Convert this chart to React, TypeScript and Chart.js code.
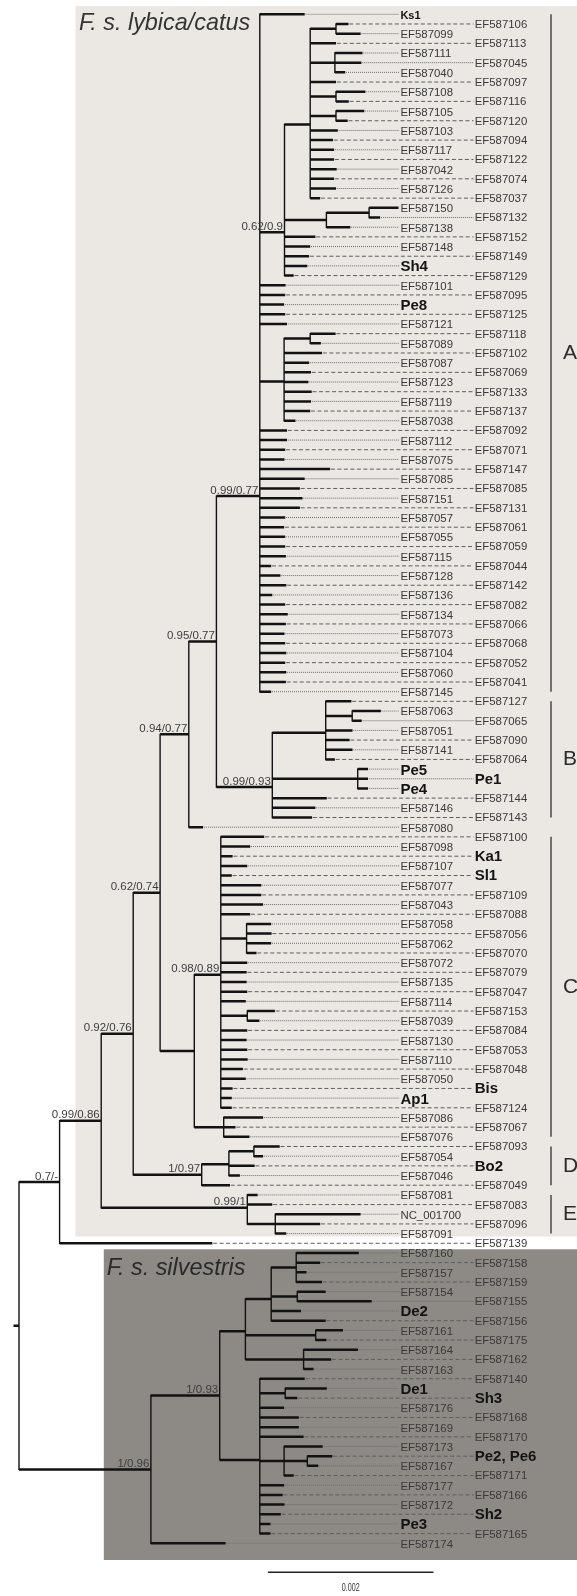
import React, { useEffect, useRef } from 'react';
import { Chart, registerables } from 'chart.js';

Chart.register(...registerables);

// ---------------- DATA ----------------
// Tree topology (Newick). Numbers after ":" are node depths from the root, in tree units
// (165.6 tree units = 0.002 substitutions/site, the scale bar). Internal labels = support values.
const treeNewick = `
(
 (
  (
   (
    (
     (
      (
       (
        Ks1:285.7,
        (
         (
          (EF587106:329.5,EF587099:341.6):317,
          EF587113:317,
          (EF587111:343.5,EF587045:342.4,EF587040:326.2):315.9,
          EF587097:317,
          (EF587108:346.4,EF587116:329.8):317,
          (EF587105:345.3,EF587120:328.7):317,
          EF587103:318.8,EF587094:314,EF587117:315.1,EF587122:315.1,
          EF587042:317.7,EF587074:315.1,EF587126:317,EF587037:301.2
         ):291.2,
         ((EF587150:379.5,EF587132:361.1):350.1,EF587138:331.3):307.4,
         EF587152:296.4,EF587148:291.2,EF587149:290.1,Sh4:288.3,EF587129:274.7
        )0.62/0.9:265.5,
        EF587101:266.6,EF587095:266.2,Pe8:265.1,EF587125:266.2,EF587121:268,
        (
         (EF587118:316.6,EF587089:301.9):291.2,
         EF587102:303,EF587087:290.1,EF587069:292,EF587123:289.4,
         EF587133:292.7,EF587119:292,EF587137:291.2,EF587038:276.5
        ):265.1,
        EF587092:268,EF587112:268,EF587071:266.2,EF587075:265.5,EF587147:311.1,
        EF587085:285.7,EF587085:280.9,EF587151:283.5,EF587131:280.9,EF587057:266.2,
        EF587061:265.1,EF587055:266.2,EF587059:266.2,EF587115:266.9,EF587044:252.2,
        EF587128:261.4,EF587142:267.3,EF587136:253.3,EF587082:266.2,EF587134:268.8,
        EF587066:266.9,EF587073:265.5,EF587068:266.2,EF587104:267.3,EF587052:266.2,
        EF587060:267.3,EF587041:266.9,EF587145:252.2
       )0.99/0.77:240.8,
       (
        (EF587127:332.4,(EF587063:361.9,EF587065:342.7):333.2,EF587051:333.5,
         EF587090:330.6,EF587141:333.5,EF587064:315.9):306.7,
        (Pe5:349,Pe1:349,Pe4:349):338.7,
        EF587144:307.8,EF587146:296.4,EF587143:293.1
       )0.99/0.93:253.3
      )0.95/0.77:197.4,
      EF587080:184.1
     )0.94/0.77:169.8,
     (
      (EF587100:245.2,EF587098:231.2,Ka1:213.6,EF587107:228.3,Sl1:212.8,
       EF587077:242.3,EF587109:242.3,EF587043:244.1,EF587088:231.2,
       (EF587058:252.2,EF587056:252.6,EF587062:252.2,EF587070:237.5):227.6,
       EF587072:228.3,EF587079:227.6,EF587135:227.6,EF587047:228.3,EF587114:226.8,
       (EF587153:255.9,EF587039:240.4):228.3,
       EF587084:228.3,EF587130:227.6,EF587053:228.3,EF587110:228.7,EF587048:223.9,
       EF587050:226.8,Bis:213.6,Ap1:212.8,EF587124:212.8
      )0.98/0.89:201.8,
      (EF587086:244.1,EF587067:216.5,EF587076:230.5):204.7
     ):175.3
    )0.62/0.74:141.1,
    (
     ((EF587093:260.7,EF587054:244.1):234.9,Bo2:235.6,EF587046:220.9):209.9,
     EF587049:211
    )1/0.97:182.7
   )0.92/0.76:114.2,
   (EF587081:238.6,EF587083:253.3,(NC_001700:341.6,EF587096:301.2,EF587091:267.3):256.3)0.99/1:228.3
  )0.99/0.86:82.2,
  EF587139:193.3
 )0.7/-:40.6,
 (
  (
   (
    ((EF587160:339.8,EF587158:301.2,EF587157:287.5,EF587159:303):277.2,
     (EF587154:306.7,EF587155:352.7):278.3,De2:282,EF587156:306.7):252.2,
    (EF587161:324,EF587175:307.4):296.7,
    (EF587164:339,EF587162:312.2,EF587163:294.5):284.6
   ):226.4,
   (
    EF587140:285.7,(De1:307.8,Sh3:278.3):266.2,EF587176:265.1,EF587168:279.8,
    EF587169:279.8,EF587170:284.6,
    (EF587173:303.7,('Pe2, Pe6':313.3,EF587167:299.3):288.3,EF587171:274.7):265.1,
    EF587177:265.1,EF587166:263.6,EF587172:265.5,Sh2:261.8,Pe3:251.5,EF587165:251.5
   ):240.8
  )1/0.93:200.7,
  EF587174:206.6
 )1/0.96:131.9
):0;
`;

const boldLeaves = ['Ks1', 'Sh4', 'Pe8', 'Pe5', 'Pe1', 'Pe4', 'Ka1', 'Sl1', 'Bis', 'Ap1', 'Bo2',
  'De2', 'De1', 'Sh3', 'Pe2, Pe6', 'Sh2', 'Pe3'];
// right-column leaves whose guide is dotted instead of dashed
const dottedRightLeaves = ['EF587045', 'EF587132', 'EF587065', 'Pe1', 'EF587155'];

const cladeLetters = ['A', 'B', 'C', 'D', 'E'];
const cladeFirstLeaf = [0, 71, 85, 117, 122];
const cladeLastLeaf = [70, 83, 116, 121, 126];

const groupTitles = ['F. s. lybica/catus', 'F. s. silvestris'];
const scaleBarValue = 0.002;
const scaleBarLabel = '0.002';

// ---------------- LAYOUT CONSTANTS ----------------
const W = 577;
const H = 1596;
const TREE_UNIT = 0.002 / 165.6;
const ROOT_STUB = 5.5;
const X_MIN = -19;
const X_MAX = 558;
const FIRST_ROW = 14.3;
const ROW = 9.677;
const LEFT_COLUMN = 381.4;
const RIGHT_COLUMN = 455.7;
const CLADE_BAR_X = 532;
const CLADE_LETTER_X = 544;
const SCALE_BAR_X = 248.9;
const SCALE_BAR_ROW = 161.0;
const SCALE_LABEL_ROW = 162.65;
const FONT = '"Liberation Sans", Arial, Helvetica, sans-serif';

type TNode = { name: string; depth: number; children: TNode[]; y: number; leafIndex: number };

function parseNewick(s: string): TNode {
  let i = 0;
  const ws = () => { while (i < s.length && /\s/.test(s[i])) i++; };
  const parseNode = (): TNode => {
    ws();
    const node: TNode = { name: '', depth: 0, children: [], y: 0, leafIndex: -1 };
    if (s[i] === '(') {
      i++;
      node.children.push(parseNode());
      ws();
      while (s[i] === ',') { i++; node.children.push(parseNode()); ws(); }
      i++; // ')'
    }
    ws();
    if (s[i] === "'") {
      i++;
      const st = i;
      while (s[i] !== "'") i++;
      node.name = s.slice(st, i);
      i++;
    } else {
      const st = i;
      while (i < s.length && !',():;'.includes(s[i])) i++;
      node.name = s.slice(st, i).trim();
    }
    ws();
    if (s[i] === ':') {
      i++;
      const st = i;
      while (i < s.length && !',();'.includes(s[i])) i++;
      node.depth = parseFloat(s.slice(st, i));
    }
    return node;
  };
  return parseNode();
}

function buildTree() {
  const root = parseNewick(treeNewick);
  const leaves: TNode[] = [];
  const internals: TNode[] = [];
  const layout = (n: TNode) => {
    if (n.children.length === 0) {
      n.leafIndex = leaves.length;
      n.y = leaves.length;
      leaves.push(n);
      return;
    }
    n.children.forEach(layout);
    n.y = n.children.reduce((a, c) => a + c.y, 0) / n.children.length;
    internals.push(n);
  };
  layout(root);
  return { root, leaves, internals };
}

const GAP = { x: NaN, y: NaN };

export default function App() {
  const ref = useRef<HTMLCanvasElement | null>(null);

  useEffect(() => {
    if (!ref.current) return;
    const { root, leaves, internals } = buildTree();

    const hor: any[] = [];
    const ver: any[] = [];
    const dotted: any[] = [];
    const dashed: any[] = [];
    const bars: any[] = [];
    const scaleBar: any[] = [];

    // root stub
    hor.push({ x: -ROOT_STUB * TREE_UNIT, y: root.y }, { x: 0, y: root.y }, GAP);
    const walk = (n: TNode) => {
      if (n.children.length) {
        ver.push(
          { x: n.depth * TREE_UNIT, y: n.children[0].y },
          { x: n.depth * TREE_UNIT, y: n.children[n.children.length - 1].y },
          GAP,
        );
        n.children.forEach((c) => {
          hor.push({ x: n.depth * TREE_UNIT, y: c.y }, { x: c.depth * TREE_UNIT, y: c.y }, GAP);
          walk(c);
        });
      }
    };
    walk(root);

    leaves.forEach((lf, i) => {
      const left = i % 2 === 0;
      const end = (left ? LEFT_COLUMN : RIGHT_COLUMN) - 1.2;
      if (lf.depth + 0.5 >= end) return;
      const seg = [{ x: (lf.depth + 0.8) * TREE_UNIT, y: lf.y }, { x: end * TREE_UNIT, y: lf.y }, GAP];
      if (left || dottedRightLeaves.includes(lf.name)) dotted.push(...seg);
      else dashed.push(...seg);
    });

    cladeLetters.forEach((_, k) => {
      bars.push(
        { x: CLADE_BAR_X * TREE_UNIT, y: cladeFirstLeaf[k] },
        { x: CLADE_BAR_X * TREE_UNIT, y: cladeLastLeaf[k] },
        GAP,
      );
    });

    scaleBar.push(
      { x: SCALE_BAR_X * TREE_UNIT, y: SCALE_BAR_ROW },
      { x: SCALE_BAR_X * TREE_UNIT + scaleBarValue, y: SCALE_BAR_ROW },
    );

    const lineDs = (label: string, data: any[], extra: any) => ({
      label,
      data,
      showLine: true,
      spanGaps: false,
      pointRadius: 0,
      pointHoverRadius: 0,
      tension: 0,
      fill: false,
      ...extra,
    });

    const decor = {
      id: 'decor',
      beforeDatasetsDraw(chart: any) {
        const { ctx } = chart;
        const ys = chart.scales.y;
        ctx.save();
        // group boxes
        ctx.fillStyle = '#ebe7e3';
        const t1 = 6;
        const b1 = ys.getPixelForValue(126.3);
        ctx.fillRect(75.4, t1, W - 75.4, b1 - t1);
        ctx.fillStyle = '#8d8984';
        const t2 = ys.getPixelForValue(127.62);
        const b2 = 1560;
        ctx.fillRect(103.8, t2, W - 103.8, b2 - t2);
        // group titles
        ctx.font = `italic 23.4px ${FONT}`;
        ctx.textBaseline = 'alphabetic';
        ctx.textAlign = 'left';
        ctx.fillStyle = '#343434';
        ctx.fillText(groupTitles[0], 79, 30);
        ctx.fillStyle = '#2a2a2a';
        ctx.fillText(groupTitles[1], 106.7, 1275);
        ctx.restore();
      },
      afterDatasetsDraw(chart: any) {
        const { ctx } = chart;
        const xs = chart.scales.x;
        const ys = chart.scales.y;
        ctx.save();
        // leaf labels
        ctx.textAlign = 'left';
        ctx.textBaseline = 'middle';
        leaves.forEach((lf, i) => {
          const left = i % 2 === 0;
          const px = xs.getPixelForValue((left ? LEFT_COLUMN : RIGHT_COLUMN) * TREE_UNIT);
          const py = ys.getPixelForValue(lf.y) + (left ? 1.3 : 0.8);
          const bold = boldLeaves.includes(lf.name);
          if (bold) {
            ctx.font = lf.name === 'Ks1' ? `bold 11px ${FONT}` : `bold 15px ${FONT}`;
            ctx.fillStyle = '#141414';
          } else {
            ctx.font = `11.4px ${FONT}`;
            ctx.fillStyle = '#3a3a3a';
          }
          ctx.fillText(lf.name, px, py);
        });
        // support values
        ctx.font = `11.5px ${FONT}`;
        ctx.fillStyle = '#3e3e3e';
        ctx.textAlign = 'right';
        ctx.textBaseline = 'alphabetic';
        internals.forEach((n) => {
          if (!n.name) return;
          const px = xs.getPixelForValue(n.depth * TREE_UNIT) - 1.5;
          const py = ys.getPixelForValue(n.y) - 2.3;
          ctx.fillText(n.name, px, py);
        });
        // clade letters
        ctx.font = `21px ${FONT}`;
        ctx.fillStyle = '#2c2c2c';
        ctx.textAlign = 'left';
        ctx.textBaseline = 'middle';
        cladeLetters.forEach((c, k) => {
          const px = xs.getPixelForValue(CLADE_LETTER_X * TREE_UNIT);
          const py = ys.getPixelForValue((cladeFirstLeaf[k] + cladeLastLeaf[k]) / 2);
          ctx.fillText(c, px, py);
        });
        // scale label
        const sx = xs.getPixelForValue(SCALE_BAR_X * TREE_UNIT + scaleBarValue / 2);
        const sy = ys.getPixelForValue(SCALE_LABEL_ROW);
        ctx.translate(sx, sy);
        ctx.scale(0.65, 1);
        ctx.font = `11px ${FONT}`;
        ctx.fillStyle = '#333';
        ctx.textAlign = 'center';
        ctx.textBaseline = 'middle';
        ctx.fillText(scaleBarLabel, 0, 0);
        ctx.restore();
      },
    };

    const chart = new Chart(ref.current, {
      type: 'scatter',
      data: {
        datasets: [
          lineDs('branches', hor, { borderColor: '#121212', borderWidth: 2.5, borderCapStyle: 'butt' }),
          lineDs('nodes', ver, { borderColor: '#121212', borderWidth: 1.4, borderCapStyle: 'square' }),
          lineDs('clades', bars, { borderColor: '#4a4a4a', borderWidth: 1.5 }),
          lineDs('scale', scaleBar, { borderColor: '#222', borderWidth: 1.5 }),
          lineDs('guides dashed', dashed, { borderColor: '#5e5e5e', borderWidth: 1, borderDash: [4, 2.5] }),
          lineDs('guides dotted', dotted, { borderColor: '#6e6e6e', borderWidth: 1, borderDash: [1, 1] }),
        ],
      },
      options: {
        animation: false,
        responsive: false,
        maintainAspectRatio: false,
        events: [],
        layout: { padding: 0, autoPadding: false },
        plugins: { legend: { display: false }, tooltip: { enabled: false }, title: { display: false } },
        scales: {
          x: { type: 'linear', display: false, min: X_MIN * TREE_UNIT, max: X_MAX * TREE_UNIT },
          y: {
            type: 'linear',
            display: false,
            reverse: true,
            min: -FIRST_ROW / ROW,
            max: (H - FIRST_ROW) / ROW,
          },
        },
      } as any,
      plugins: [decor as any],
    });
    return () => chart.destroy();
  }, []);

  return (
    <div style={{ position: 'absolute', left: 0, top: 0, width: W, height: H }}>
      <canvas ref={ref} width={W} height={H} style={{ display: 'block', width: W, height: H }} />
    </div>
  );
}
